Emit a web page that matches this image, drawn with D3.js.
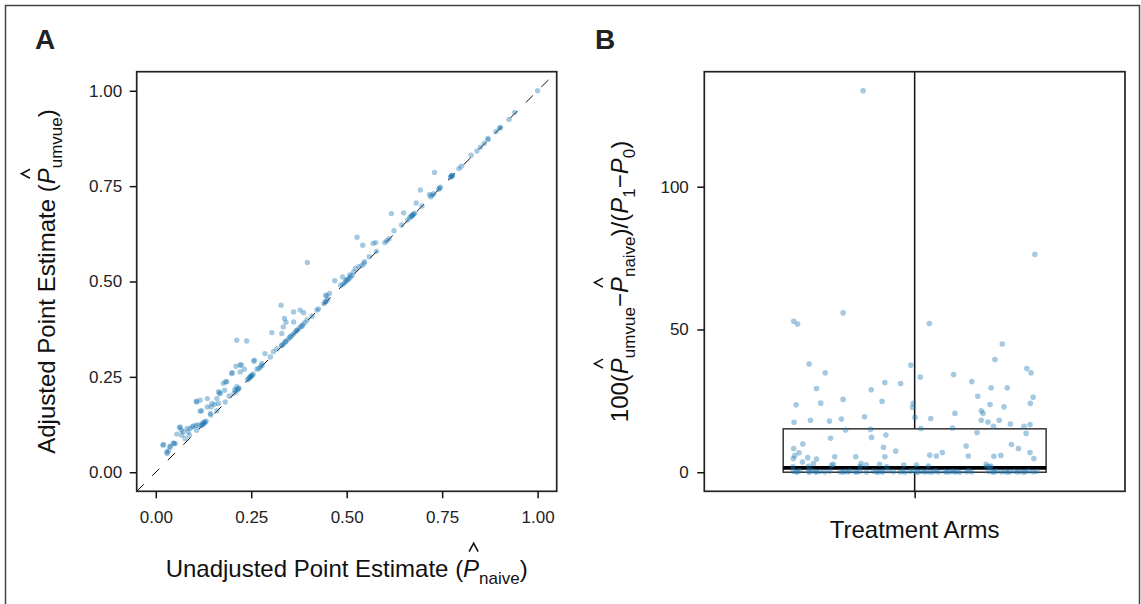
<!DOCTYPE html>
<html>
<head>
<meta charset="utf-8">
<script src="https://cdn.jsdelivr.net/npm/d3@7"></script>
<style>
  body { margin: 0; background: #fff; }
  svg { display: block; }
  .tick text { font-family: "Liberation Sans", Arial, sans-serif; font-size: 17px; fill: #222; }
  .tick line { stroke: #111; stroke-width: 1.5; }
  .title { font-family: "Liberation Sans", Arial, sans-serif; font-size: 24px; fill: #111; }
  .panel-tag { font-family: "Liberation Sans", Arial, sans-serif; font-size: 28px; font-weight: bold; fill: #222; }
</style>
</head>
<body>
<svg id="chart" width="1141" height="604"></svg>
<script>
// Panel A: [unadjusted (naive), adjusted (umvue)] point estimates
const estimates = [
  [0.019, 0.071], [0.020, 0.073], [0.029, 0.053], [0.030, 0.049], [0.033, 0.056], [0.037, 0.066], [0.038, 0.068],
  [0.046, 0.077], [0.048, 0.075], [0.051, 0.075], [0.055, 0.100], [0.062, 0.117], [0.064, 0.119], [0.067, 0.110],
  [0.068, 0.097], [0.072, 0.106], [0.077, 0.088], [0.082, 0.115], [0.085, 0.106], [0.088, 0.097], [0.090, 0.115],
  [0.096, 0.119], [0.099, 0.121], [0.106, 0.123], [0.107, 0.110], [0.107, 0.184], [0.106, 0.186], [0.112, 0.123],
  [0.116, 0.189], [0.116, 0.160], [0.120, 0.161], [0.121, 0.128], [0.127, 0.132], [0.135, 0.193], [0.135, 0.171],
  [0.143, 0.154], [0.144, 0.150], [0.145, 0.171], [0.147, 0.180], [0.154, 0.178], [0.160, 0.193], [0.160, 0.161],
  [0.164, 0.180], [0.164, 0.211], [0.167, 0.206], [0.169, 0.208], [0.177, 0.233], [0.180, 0.215], [0.182, 0.184],
  [0.183, 0.237], [0.186, 0.237], [0.192, 0.200], [0.199, 0.259], [0.200, 0.261], [0.207, 0.217], [0.210, 0.278],
  [0.212, 0.346], [0.212, 0.224], [0.216, 0.219], [0.221, 0.281], [0.224, 0.281], [0.221, 0.263], [0.232, 0.270],
  [0.238, 0.344], [0.247, 0.250], [0.251, 0.254], [0.257, 0.291], [0.258, 0.294], [0.265, 0.270], [0.278, 0.285],
  [0.286, 0.311], [0.300, 0.302], [0.304, 0.366], [0.308, 0.316], [0.317, 0.324], [0.328, 0.438], [0.330, 0.364],
  [0.330, 0.333], [0.334, 0.381], [0.337, 0.403], [0.339, 0.342], [0.341, 0.393], [0.352, 0.355], [0.361, 0.420],
  [0.361, 0.394], [0.369, 0.372], [0.378, 0.425], [0.383, 0.383], [0.387, 0.418], [0.396, 0.399], [0.397, 0.550],
  [0.409, 0.409], [0.422, 0.425], [0.426, 0.428], [0.444, 0.447], [0.445, 0.464], [0.448, 0.462], [0.455, 0.469],
  [0.469, 0.502], [0.484, 0.490], [0.489, 0.512], [0.498, 0.504], [0.508, 0.517], [0.518, 0.525], [0.523, 0.534],
  [0.527, 0.616], [0.532, 0.539], [0.542, 0.595], [0.547, 0.552], [0.559, 0.565], [0.569, 0.600], [0.576, 0.602],
  [0.578, 0.579], [0.611, 0.612], [0.617, 0.678], [0.624, 0.633], [0.644, 0.648], [0.649, 0.680], [0.659, 0.661],
  [0.671, 0.672], [0.675, 0.676], [0.678, 0.679], [0.682, 0.706], [0.693, 0.740], [0.697, 0.698], [0.717, 0.728],
  [0.730, 0.786], [0.741, 0.742], [0.744, 0.745], [0.773, 0.774], [0.775, 0.777], [0.777, 0.778], [0.794, 0.796],
  [0.826, 0.831], [0.841, 0.842], [0.860, 0.862], [0.870, 0.875], [0.891, 0.893], [0.903, 0.904], [0.925, 0.925],
  [0.940, 0.943], [1.000, 1.000],
  // dense runs sitting on the identity line
  [0.120, 0.122], [0.123, 0.125], [0.126, 0.128], [0.129, 0.131], [0.132, 0.134],
  [0.205, 0.207], [0.210, 0.212], [0.214, 0.216], [0.218, 0.220],
  [0.240, 0.242], [0.243, 0.245], [0.246, 0.248], [0.249, 0.251], [0.252, 0.254], [0.255, 0.257],
  [0.270, 0.272], [0.274, 0.276], [0.278, 0.280],
  [0.330, 0.332], [0.335, 0.337], [0.340, 0.342], [0.345, 0.347], [0.350, 0.352], [0.355, 0.357], [0.360, 0.362],
  [0.365, 0.367], [0.370, 0.372], [0.375, 0.377], [0.380, 0.382], [0.385, 0.387], [0.390, 0.392],
  [0.440, 0.442], [0.445, 0.447], [0.450, 0.452],
  [0.490, 0.492], [0.495, 0.497], [0.500, 0.502], [0.503, 0.505], [0.506, 0.508], [0.510, 0.512], [0.514, 0.516],
  [0.540, 0.542], [0.545, 0.547], [0.600, 0.602], [0.605, 0.607],
  [0.665, 0.667], [0.668, 0.670], [0.671, 0.673], [0.674, 0.676],
  [0.720, 0.722], [0.724, 0.726], [0.728, 0.730], [0.745, 0.747], [0.772, 0.774], [0.776, 0.778],
  [0.800, 0.802], [0.850, 0.852], [0.870, 0.872], [0.900, 0.902]
]

// Panel B: [horizontal jitter offset, 100(P_umvue - P_naive)/(P1 - P0)]
const armPoints = [
  [-0.147, 133.6], [0.343, 76.3],
  [-0.345, 52.9], [-0.334, 51.9], [-0.204, 55.8], [0.042, 52.1], [0.250, 44.9], [0.229, 39.5], [-0.301, 37.9],
  [-0.011, 37.5], [-0.255, 34.8], [0.111, 34.2], [0.320, 36.3], [0.332, 34.8], [0.016, 33.3], [-0.085, 31.4],
  [-0.040, 31.1], [0.163, 31.8], [-0.280, 29.3], [-0.124, 28.9], [0.218, 29.6], [0.264, 29.6], [0.180, 26.6],
  [0.338, 26.3], [-0.204, 25.5], [-0.268, 24.2], [-0.338, 23.6], [-0.093, 24.8], [-0.004, 24.1], [-0.006, 22.7],
  [0.215, 23.7], [0.330, 24.1], [0.255, 22.9], [0.190, 21.5], [0.195, 20.6], [0.115, 20.6], [0.001, 19.2],
  [0.046, 18.8], [-0.297, 18.2], [-0.209, 18.6], [-0.143, 19.4], [-0.243, 17.9], [-0.344, 17.5], [0.190, 18.2],
  [0.209, 17.6], [0.241, 18.2], [0.273, 16.9], [0.329, 16.7], [0.312, 16.1], [0.225, 16.1], [0.108, 15.5],
  [-0.197, 14.8], [-0.126, 15.0], [0.018, 15.3], [0.178, 13.9], [0.318, 13.6], [-0.082, 13.0], [-0.240, 11.9],
  [-0.123, 12.2], [-0.319, 9.9], [0.147, 9.2], [0.276, 9.7], [-0.089, 8.7], [0.296, 8.3], [-0.345, 8.3],
  [-0.054, 7.4], [0.079, 6.9], [0.043, 6.0], [0.062, 5.7], [0.153, 5.7], [0.226, 5.6], [0.246, 5.9],
  [0.329, 6.9], [0.340, 4.8], [-0.330, 6.8], [-0.342, 5.8], [-0.346, 4.8], [-0.305, 5.1], [-0.280, 4.6],
  [-0.228, 5.4], [-0.168, 5.4], [-0.085, 5.4], [-0.320, 3.6], [-0.289, 3.0], [-0.232, 2.8], [-0.153, 3.0],
  [-0.138, 2.6], [-0.100, 2.8], [-0.031, 2.5], [0.005, 2.5], [0.204, 2.8], [0.217, 2.2], [-0.347, 1.9],
  [-0.303, 2.1], [-0.237, 2.4], [-0.156, 2.0], [-0.080, 1.9], [0.039, 2.2], [0.206, 2.0], [0.215, 1.8],
  [-0.346, 0.3], [-0.337, 0.1], [-0.327, 0.5], [-0.335, 0.2], [-0.303, 0.4], [-0.300, 0.0], [-0.294, 0.6],
  [-0.284, 0.2], [-0.280, 0.1], [-0.270, 0.3], [-0.256, 0.1], [-0.242, 0.4], [-0.213, 0.2], [-0.205, 0.0],
  [-0.199, 0.3], [-0.190, 0.1], [-0.185, 0.5], [-0.170, 0.2], [-0.165, 0.0], [-0.156, 0.3], [-0.137, 0.1],
  [-0.118, 0.4], [-0.110, 0.2], [-0.104, 0.0], [-0.095, 0.3], [-0.090, 0.1], [-0.075, 0.5], [-0.061, 0.2],
  [-0.042, 0.1], [-0.035, 0.4], [-0.028, 0.0], [-0.013, 0.3], [-0.005, 0.6], [0.006, 0.2], [0.010, 0.0],
  [0.020, 0.4], [0.028, 0.1], [0.034, 0.3], [0.044, 0.0], [0.053, 0.2], [0.060, 0.5], [0.068, 0.1],
  [0.086, 0.3], [0.092, 0.0], [0.101, 0.2], [0.108, 0.4], [0.115, 0.1], [0.120, 0.3], [0.129, 0.0],
  [0.148, 0.2], [0.155, 0.5], [0.163, 0.1], [0.210, 0.3], [0.222, 0.0], [0.228, 0.2], [0.234, 0.4],
  [0.248, 0.1], [0.258, 0.3], [0.265, 0.0], [0.272, 0.2], [0.286, 0.4], [0.293, 0.1], [0.300, 0.3],
  [0.310, 0.0], [0.316, 0.2], [0.324, 0.5], [0.338, 0.1], [0.348, 0.3]
]

// box summary for panel B: lower hinge, median, upper hinge; whisker ends
const boxHinges = [0, 1.5, 15.2]
const whiskerEnds = [-7, 141]

const estimateTicks = [0, 0.25, 0.5, 0.75, 1]
const diffTicks = [0, 50, 100]
const armCategory = ['Treatment Arms']

const svg = d3.select('#chart')
const pointColor = '#1f78b4'

// outer frame (open at the bottom)
svg.append('path')
  .attr('d', 'M5.5,610V5.5H1139.5V610')
  .attr('fill', 'none')
  .attr('stroke', '#444')
  .attr('stroke-width', 1.5)

// ---------- Panel A ----------
const a = { left: 136.7, right: 556.7, top: 71.7, bottom: 491.3 }
const xA = d3.scaleLinear().domain([-0.05, 1.05]).range([a.left, a.right])
const yA = d3.scaleLinear().domain([-0.05, 1.05]).range([a.bottom, a.top])

svg.append('defs').append('clipPath').attr('id', 'clipA')
  .append('rect')
  .attr('x', a.left).attr('y', a.top)
  .attr('width', a.right - a.left).attr('height', a.bottom - a.top)

svg.append('line')
  .attr('clip-path', 'url(#clipA)')
  .attr('x1', xA(-0.05)).attr('y1', yA(-0.05))
  .attr('x2', xA(1.05)).attr('y2', yA(1.05))
  .attr('stroke', '#111')
  .attr('stroke-width', 1)
  .attr('stroke-dasharray', '10,12')

svg.append('g')
  .attr('clip-path', 'url(#clipA)')
  .selectAll('circle')
  .data(estimates)
  .join('circle')
  .attr('cx', d => xA(d[0]))
  .attr('cy', d => yA(d[1]))
  .attr('r', 2.7)
  .attr('fill', pointColor)
  .attr('fill-opacity', 0.4)

svg.append('rect')
  .attr('x', a.left).attr('y', a.top)
  .attr('width', a.right - a.left).attr('height', a.bottom - a.top)
  .attr('fill', 'none')
  .attr('stroke', '#222')
  .attr('stroke-width', 1.7)

svg.append('g')
  .attr('transform', `translate(${a.left},0)`)
  .call(d3.axisLeft(yA).tickValues(estimateTicks).tickFormat(d3.format('.2f')).tickSize(7).tickPadding(7.5))
  .call(g => g.select('.domain').remove())

svg.append('g')
  .attr('transform', `translate(0,${a.bottom})`)
  .call(d3.axisBottom(xA).tickValues(estimateTicks).tickFormat(d3.format('.2f')).tickSize(7).tickPadding(12.5))
  .call(g => g.select('.domain').remove())

// ---------- Panel B ----------
const b = { left: 704.3, right: 1125, top: 71.7, bottom: 491.3 }
const xB = d3.scaleLinear().domain([0.4, 1.6]).range([b.left, b.right])
const yB = d3.scaleLinear().domain([-6.68, 140.28]).range([b.bottom, b.top])
const xBand = d3.scalePoint().domain(armCategory).range([xB(1), xB(1)])

svg.select('defs').append('clipPath').attr('id', 'clipB')
  .append('rect')
  .attr('x', b.left).attr('y', b.top)
  .attr('width', b.right - b.left).attr('height', b.bottom - b.top)

const cx = xBand(armCategory[0])
const boxG = svg.append('g').attr('clip-path', 'url(#clipB)')

boxG.append('line')
  .attr('x1', cx).attr('x2', cx)
  .attr('y1', yB(whiskerEnds[0])).attr('y2', yB(whiskerEnds[1]))
  .attr('stroke', '#111')
  .attr('stroke-width', 1.5)

boxG.append('rect')
  .attr('x', xB(1 - 0.375))
  .attr('width', xB(1.375) - xB(1 - 0.375))
  .attr('y', yB(boxHinges[2]))
  .attr('height', yB(boxHinges[0]) - yB(boxHinges[2]))
  .attr('fill', '#fff')
  .attr('stroke', '#333')
  .attr('stroke-width', 1.5)

boxG.append('line')
  .attr('x1', xB(1 - 0.375)).attr('x2', xB(1.375))
  .attr('y1', yB(boxHinges[1])).attr('y2', yB(boxHinges[1]))
  .attr('stroke', '#000')
  .attr('stroke-width', 3.8)

boxG.append('g')
  .selectAll('circle')
  .data(armPoints)
  .join('circle')
  .attr('cx', d => xB(1 + d[0]))
  .attr('cy', d => yB(d[1]))
  .attr('r', 2.8)
  .attr('fill', pointColor)
  .attr('fill-opacity', 0.4)

svg.append('rect')
  .attr('x', b.left).attr('y', b.top)
  .attr('width', b.right - b.left).attr('height', b.bottom - b.top)
  .attr('fill', 'none')
  .attr('stroke', '#222')
  .attr('stroke-width', 1.7)

svg.append('g')
  .attr('transform', `translate(${b.left},0)`)
  .call(d3.axisLeft(yB).tickValues(diffTicks).tickSize(7).tickPadding(8.5))
  .call(g => g.select('.domain').remove())

svg.append('g')
  .attr('transform', `translate(0,${b.bottom})`)
  .call(d3.axisBottom(xBand).tickSize(7).tickFormat(''))
  .call(g => g.select('.domain').remove())

// ---------- titles ----------
// parts: plain text, italic P (optionally with a hat), or subscript.
// The hat accent is drawn as a small chevron over the P.
const subDrop = 7

function mathTitle (parent, parts) {
  const text = parent.append('text').attr('class', 'title').attr('text-anchor', 'middle')
  let level = 0
  let index = 0
  const hats = []
  parts.forEach(p => {
    const target = p.sub ? subDrop : 0
    const ts = text.append('tspan').text(p.t)
    if (p.italic) ts.attr('font-style', 'italic')
    if (p.sub) ts.attr('font-size', '17px')
    if (target !== level) ts.attr('dy', target - level)
    level = target
    if (p.hat) hats.push(index)
    index += p.t.length
  })
  hats.forEach(i => {
    const s = text.node().getStartPositionOfChar(i)
    const e = text.node().getEndPositionOfChar(i)
    const mid = (s.x + e.x) / 2 + 2.5
    const base = s.y
    parent.append('path')
      .attr('d', `M${mid - 4.5},${base - 25}L${mid},${base - 33.5}L${mid + 4.5},${base - 25}`)
      .attr('fill', 'none')
      .attr('stroke', '#111')
      .attr('stroke-width', 1.6)
  })
  return text
}

const titleA = svg.append('g').attr('transform', `translate(${(a.left + a.right) / 2},576.7)`)
mathTitle(titleA, [
  { t: 'Unadjusted Point Estimate (' },
  { t: 'P', italic: true, hat: true },
  { t: 'naive', sub: true },
  { t: ')' }
])

const yTitleA = svg.append('g').attr('transform', `translate(55,${(a.top + a.bottom) / 2}) rotate(-90)`)
mathTitle(yTitleA, [
  { t: 'Adjusted Point Estimate (' },
  { t: 'P', italic: true, hat: true },
  { t: 'umvue', sub: true },
  { t: ')' }
])

const yTitleB = svg.append('g').attr('transform', `translate(628,${(b.top + b.bottom) / 2}) rotate(-90)`)
mathTitle(yTitleB, [
  { t: '100(' },
  { t: 'P', italic: true, hat: true },
  { t: 'umvue', sub: true },
  { t: '\u2212' },
  { t: 'P', italic: true, hat: true },
  { t: 'naive', sub: true },
  { t: ')/(' },
  { t: 'P', italic: true },
  { t: '1', sub: true },
  { t: '\u2212' },
  { t: 'P', italic: true },
  { t: '0', sub: true },
  { t: ')' }
])

svg.append('text')
  .attr('class', 'title')
  .attr('text-anchor', 'middle')
  .attr('x', cx)
  .attr('y', 538.3)
  .text(armCategory[0])

svg.append('text').attr('class', 'panel-tag').attr('x', 35).attr('y', 49).text('A')
svg.append('text').attr('class', 'panel-tag').attr('x', 595).attr('y', 49).text('B')
</script>
</body>
</html>
